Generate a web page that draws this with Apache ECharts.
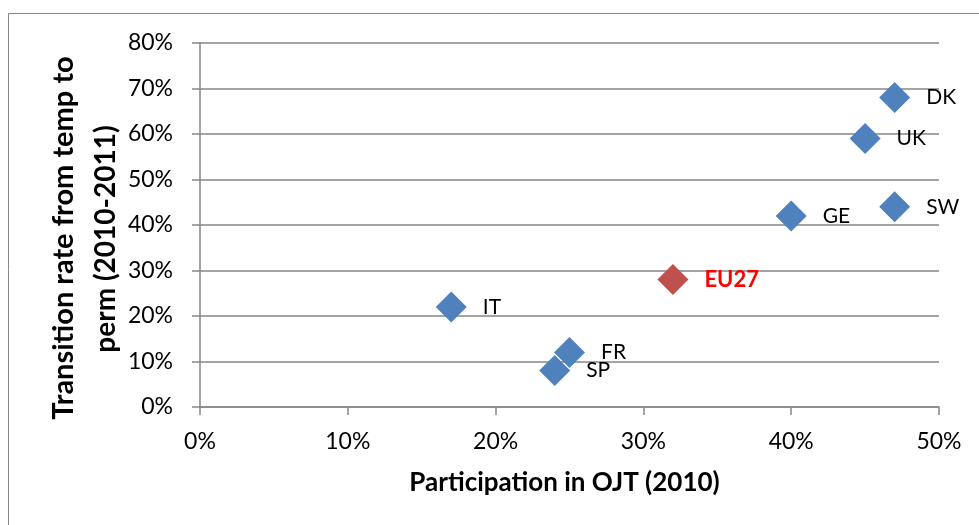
<!DOCTYPE html>
<html>
<head>
<meta charset="utf-8">
<script src="https://cdn.jsdelivr.net/npm/echarts@6/dist/echarts.min.js"></script>
<style>
html,body{margin:0;padding:0;background:#fff;}
#c{width:979px;height:525px;}
</style>
</head>
<body>
<div id="c"></div>
<script>
const countries = ['IT','SP','FR','EU27','GE','UK','DK','SW'];
const ojtParticipation = [17, 24, 25, 32, 40, 45, 47, 47];
const transitionRate = [22, 8, 12, 28, 42, 59, 68, 44];
const xTicks = [0, 10, 20, 30, 40, 50];
const yTicks = [0, 10, 20, 30, 40, 50, 60, 70, 80];
const xTitle = 'Participation in OJT (2010)';
const yTitleLines = ['Transition rate from temp to', 'perm (2010-2011)'];

const FONT = 'Lato';
const data = countries.map((c, i) => {
  const isEU = c === 'EU27';
  return {
    name: c,
    value: [ojtParticipation[i], transitionRate[i]],
    itemStyle: { color: isEU ? '#C0504D' : '#4F81BD', opacity: 1 },
    label: isEU ? { color: '#FF0000', fontWeight: 'bold', fontSize: 22 } : {}
  };
});

const chart = echarts.init(document.getElementById('c'), null, { renderer: 'canvas' });
chart.setOption({
  animation: false,
  backgroundColor: '#fff',
  graphic: [
    {
      type: 'rect',
      shape: { x: 8.5, y: 13.5, width: 1100, height: 700 },
      style: { fill: 'none', stroke: '#868686', lineWidth: 1 },
      silent: true
    },
    {
      type: 'text', x: 64, y: 238, rotation: Math.PI / 2,
      style: { text: yTitleLines[0], font: 'bold 29px Lato', fill: '#000', align: 'center', verticalAlign: 'middle' },
      silent: true
    },
    {
      type: 'text', x: 106, y: 239, rotation: Math.PI / 2,
      style: { text: yTitleLines[1], font: 'bold 28px Lato', fill: '#000', align: 'center', verticalAlign: 'middle' },
      silent: true
    }
  ],
  grid: { left: 200, right: 40, top: 43, bottom: 118, containLabel: false },
  xAxis: {
    type: 'value',
    min: xTicks[0], max: xTicks[xTicks.length - 1], interval: 10,
    name: xTitle,
    nameLocation: 'middle',
    nameGap: 63,
    nameTextStyle: { fontFamily: FONT, fontWeight: 'bold', fontSize: 26, color: '#000', padding: [0, 10, 0, 0] },
    axisLine: { show: true, lineStyle: { color: '#868686', width: 1.5 } },
    axisTick: { show: true, inside: false, length: 8, lineStyle: { color: '#868686', width: 1.5 } },
    axisLabel: { formatter: v => v + '%', fontFamily: FONT, fontSize: 23, color: '#000', margin: 23 },
    splitLine: { show: false }
  },
  yAxis: {
    type: 'value',
    min: yTicks[0], max: yTicks[yTicks.length - 1], interval: 10,
    axisLine: { show: true, lineStyle: { color: '#868686', width: 1.5 } },
    axisTick: { show: true, inside: false, length: 8, lineStyle: { color: '#868686', width: 1.5 } },
    axisLabel: { formatter: v => v + '%', fontFamily: FONT, fontSize: 23, color: '#000', margin: 27 },
    splitLine: { show: true, lineStyle: { color: '#868686', width: 1.5 } }
  },
  series: [{
    type: 'scatter',
    symbol: 'diamond',
    symbolSize: 31,
    data: data,
    label: {
      show: true,
      position: 'right',
      distance: 16,
      formatter: p => p.name,
      fontFamily: FONT,
      fontSize: 21,
      color: '#000'
    }
  }]
});
</script>
</body>
</html>
